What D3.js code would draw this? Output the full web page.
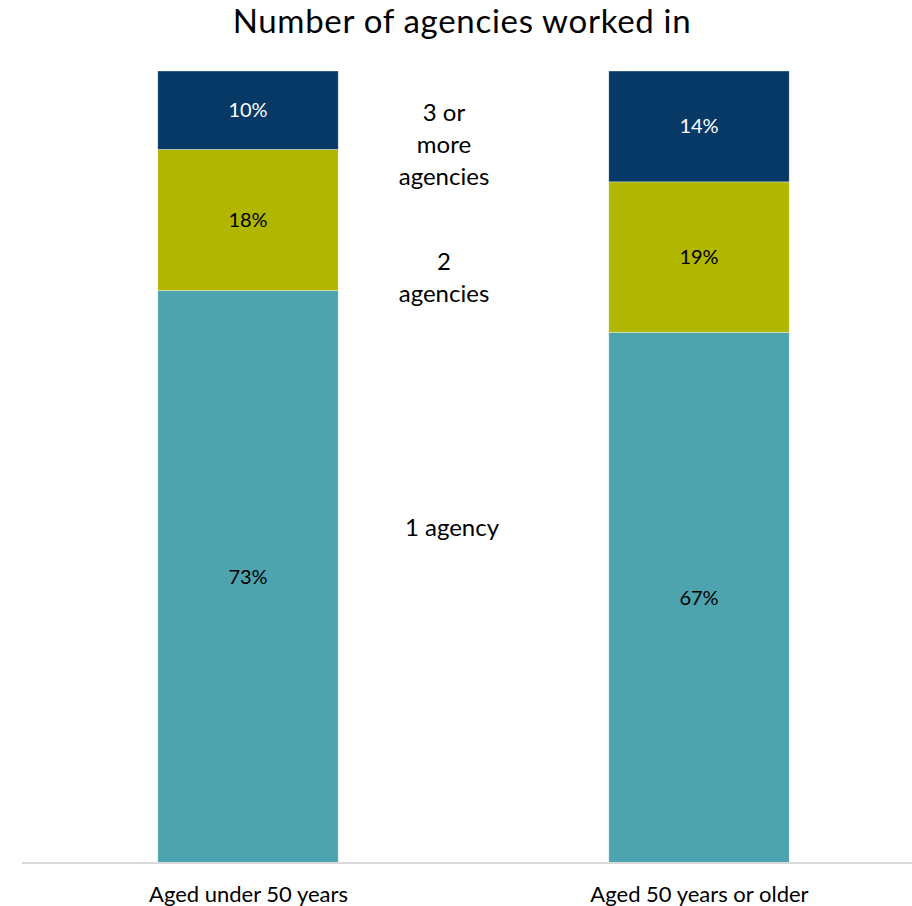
<!DOCTYPE html>
<html>
<head>
<meta charset="utf-8">
<script src="https://cdn.jsdelivr.net/npm/d3@7"></script>
<style>
  html, body { margin: 0; padding: 0; background: #fff; }
  svg { display: block; font-family: Lato, "Open Sans", sans-serif; }
</style>
</head>
<body>
<svg id="chart" width="912" height="906"></svg>
<script>
// Age groups along the x axis
const categories = ["Aged under 50 years", "Aged 50 years or older"];
// Share of workers by number of agencies (percent, as labelled)
const oneAgency = [73, 67];
const twoAgencies = [18, 19];
const threePlus = [10, 14];
// Series names shown between the bars
const seriesNames = ["1 agency", "2 agencies", "3 or more agencies"];
const seriesLabelLines = [["1 agency"], ["2", "agencies"], ["3 or", "more", "agencies"]];
const seriesColors = ["#4EA4AE", "#B1B700", "#073967"];
const seriesTextColors = ["#000", "#000", "#fff"];

const svg = d3.select("#chart");
const W = 912, H = 906;

const rows = categories.map((c, i) => ({
  category: c,
  [seriesNames[0]]: oneAgency[i],
  [seriesNames[1]]: twoAgencies[i],
  [seriesNames[2]]: threePlus[i]
}));

// Each bar fills the full height (100% stacked)
const stack = d3.stack().keys(seriesNames).offset(d3.stackOffsetExpand);
const layers = stack(rows);

const x = d3.scalePoint().domain(categories).range([22.5, 924.5]).padding(0.5);
const barWidth = x.step() * 0.4;
const y = d3.scaleLinear().domain([0, 1]).range([863, 71]);

const g = svg.append("g");

const layerG = g.selectAll("g.layer")
  .data(layers)
  .join("g")
  .attr("class", "layer")
  .attr("fill", (d, i) => seriesColors[i]);

layerG.selectAll("rect")
  .data(d => d)
  .join("rect")
  .attr("x", d => x(d.data.category) - barWidth / 2)
  .attr("width", barWidth)
  .attr("y", d => y(d[1]))
  .attr("height", d => y(d[0]) - y(d[1]))
  .attr("stroke", "#ffffff")
  .attr("stroke-width", 0.6)
  .attr("stroke-opacity", 0.6);

// Value labels in each segment
layers.forEach((layer, i) => {
  g.append("g").selectAll("text")
    .data(layer)
    .join("text")
    .attr("x", d => x(d.data.category))
    .attr("y", d => (y(d[0]) + y(d[1])) / 2)
    .attr("dy", "0.35em")
    .attr("text-anchor", "middle")
    .attr("font-size", 20)
    .attr("fill", seriesTextColors[i])
    .text(d => d.data[layer.key] + "%");
});

// Baseline and category labels
const axis = d3.axisBottom(x).tickSize(0).tickPadding(23);
const axisG = svg.append("g")
  .attr("transform", `translate(0,${y(0)})`)
  .call(axis);
axisG.select(".domain").attr("d", `M22,0H${W}`).attr("stroke", "#d9d9d9").attr("stroke-width", 2);
axisG.selectAll("text")
  .attr("font-size", 22)
  .attr("font-family", "Lato, sans-serif")
  .attr("fill", "#000");

// Series names placed between the two bars
const labelX = [452, 444, 444];
const labelTop = [528, 262, 113];
seriesLabelLines.forEach((lines, i) => {
  const t = svg.append("text")
    .attr("text-anchor", "middle")
    .attr("font-size", 24)
    .attr("fill", "#000");
  lines.forEach((ln, j) => {
    t.append("tspan")
      .attr("x", labelX[i])
      .attr("y", labelTop[i] + j * 32)
      .attr("dy", "0.35em")
      .text(ln);
  });
});

// Title
svg.append("text")
  .attr("x", 462)
  .attr("y", 33)
  .attr("text-anchor", "middle")
  .attr("font-size", 33)
  .attr("letter-spacing", 0.7)
  .attr("fill", "#000")
  .text("Number of agencies worked in");
</script>
</body>
</html>
